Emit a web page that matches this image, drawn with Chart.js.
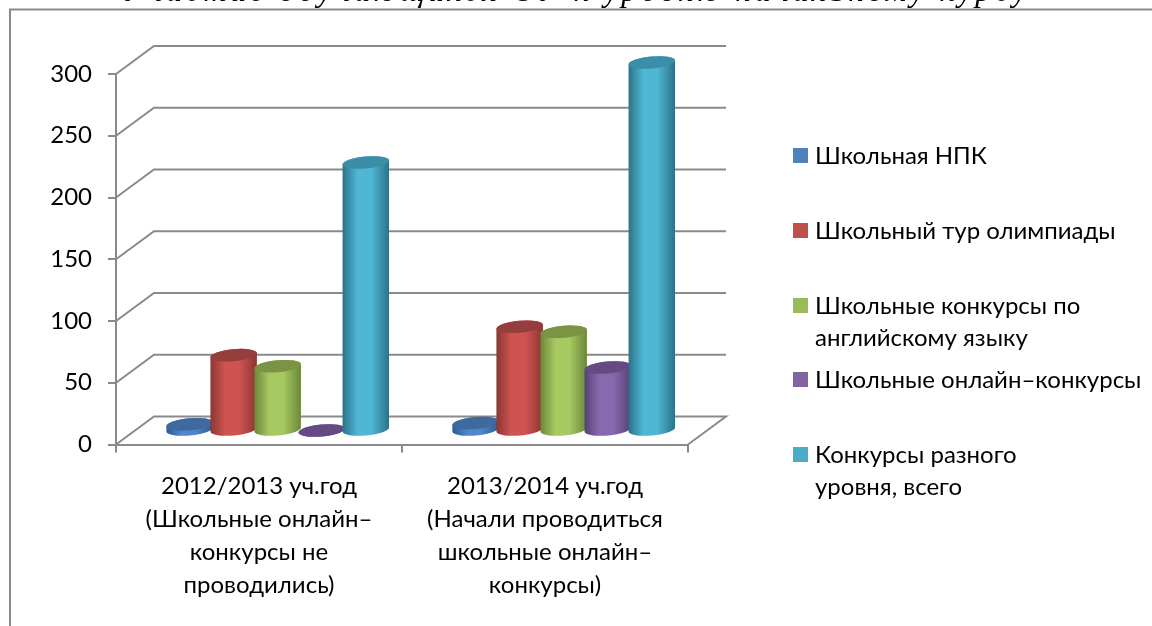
<!DOCTYPE html>
<html lang="ru">
<head>
<meta charset="utf-8">
<title>Конкурсы</title>
<script src="https://cdn.jsdelivr.net/npm/chart.js"></script>
<style>
html, body { margin: 0; padding: 0; background: #fff; overflow: hidden; }
canvas { display: block; filter: blur(0.4px); }
</style>
</head>
<body>
<canvas id="chart" width="1152" height="626"></canvas>
<script>
var categories = [
  ["2012/2013 уч.год", "(Школьные онлайн–", "конкурсы не", "проводились)"],
  ["2013/2014 уч.год", "(Начали проводиться", "школьные онлайн–", "конкурсы)"]
];
var seriesNames = [
  "Школьная НПК",
  "Школьный тур олимпиады",
  "Школьные конкурсы по английскому языку",
  "Школьные онлайн–конкурсы",
  "Конкурсы разного уровня, всего"
];
var npkValues = [5, 6];
var olympiadValues = [61, 84];
var englishValues = [52, 80];
var onlineValues = [0, 51];
var allValues = [217, 298];
var yTicks = [0, 50, 100, 150, 200, 250, 300];

var legendLines = [
  ["Школьная НПК"],
  ["Школьный тур олимпиады"],
  ["Школьные конкурсы по", "английскому языку"],
  ["Школьные онлайн–конкурсы"],
  ["Конкурсы разного", "уровня, всего"]
];

var FONT = "Lato, 'Open Sans', sans-serif";
var AXIS_GREY = "#8a8a8a";
var DEPTH_X = 38, DEPTH_Y = 28;   // back wall offset
var swatches = ["#4f81bd", "#c0504d", "#9bbb59", "#8064a2", "#4bacc6"];
var tops = ["#3e6a9f", "#953e3b", "#7a9444", "#644b84", "#3b8ea8"];
var edges = ["#2f5a92", "#8a3633", "#6c873a", "#574176", "#2b7287"];
var lights = ["#4f87c8", "#cf5451", "#a6c962", "#8868ae", "#4fb7d3"];

function cylinder(ctx, cx, topY, baseY, rx, i) {
  var ry = 6, rot = -0.09;
  var g = ctx.createLinearGradient(cx - rx, 0, cx + rx, 0);
  g.addColorStop(0, edges[i]);
  g.addColorStop(0.32, lights[i]);
  g.addColorStop(0.62, lights[i]);
  g.addColorStop(1, edges[i]);
  ctx.beginPath();
  ctx.ellipse(cx, baseY, rx, ry, rot, 0, Math.PI);
  ctx.ellipse(cx, topY, rx, ry, rot, Math.PI, Math.PI * 2);
  ctx.closePath();
  ctx.fillStyle = g;
  ctx.fill();
  ctx.beginPath();
  ctx.ellipse(cx, topY, rx, ry, rot, 0, Math.PI * 2);
  ctx.fillStyle = tops[i];
  ctx.fill();
}

var wallPlugin = {
  id: "wall",
  beforeDraw: function (chart) {
    var ctx = chart.ctx;
    ctx.save();
    ctx.fillStyle = "#fff";
    ctx.fillRect(0, 0, 1152, 626);
    ctx.strokeStyle = AXIS_GREY;
    ctx.lineWidth = 2;
    ctx.strokeRect(10, 9.5, 1300, 800);
    // page heading cut off by the crop
    ctx.fillStyle = "#000";
    ctx.font = "italic 32px 'Liberation Serif', serif";
    ctx.textAlign = "left";
    ctx.textBaseline = "alphabetic";
    ctx.letterSpacing = "3.6px";
    ctx.fillText("Участие обучающихся ОУ к уровню начальному курсу", 122, 1);
    ctx.restore();
  },
  beforeDatasetsDraw: function (chart) {
    var ctx = chart.ctx, area = chart.chartArea, y = chart.scales.y;
    ctx.save();
    ctx.strokeStyle = AXIS_GREY;
    ctx.lineWidth = 2;
    yTicks.forEach(function (t) {
      var py = y.getPixelForValue(t);
      ctx.beginPath();
      ctx.moveTo(area.left, py);
      ctx.lineTo(area.left + DEPTH_X, py - DEPTH_Y);
      ctx.lineTo(area.right + DEPTH_X, py - DEPTH_Y);
      if (t === 0) ctx.lineTo(area.right, py);
      ctx.stroke();
    });
    ctx.restore();
  },
  afterDatasetsDraw: function (chart) {
    var ctx = chart.ctx;
    ctx.save();
    // bars only report their place, the cylinders stand half way into the floor
    [0, 1].forEach(function (c) {
      chart.data.datasets.forEach(function (ds, i) {
        var bar = chart.getDatasetMeta(i).data[c];
        cylinder(ctx, bar.x + DEPTH_X / 2 - 0.3, bar.y - DEPTH_Y / 2, bar.base - DEPTH_Y / 2, bar.width / 2 + 1.3, i);
      });
    });
    ctx.restore();
  },
  afterDraw: function (chart) {
    var ctx = chart.ctx;
    var rows = [[156], [231], [306, 338], [380], [455, 487]];
    ctx.save();
    ctx.font = "24px " + FONT;
    ctx.textBaseline = "middle";
    legendLines.forEach(function (lines, i) {
      ctx.fillStyle = swatches[i];
      ctx.fillRect(793, rows[i][0] - 8, 15, 15);
      ctx.fillStyle = "#000";
      lines.forEach(function (txt, k) {
        ctx.fillText(txt, 815, rows[i][k]);
      });
    });
    ctx.restore();
  }
};

var datasets = [npkValues, olympiadValues, englishValues, onlineValues, allValues].map(function (vals, i) {
  return { label: seriesNames[i], data: vals, backgroundColor: "rgba(0,0,0,0)", borderWidth: 0 };
});

new Chart(document.getElementById("chart"), {
  type: "bar",
  data: { labels: categories, datasets: datasets },
  options: {
    responsive: false,
    animation: false,
    events: [],
    layout: { padding: { top: 74, right: 464, left: 0, bottom: 0 } },
    datasets: { bar: { categoryPercentage: 0.77, barPercentage: 1 } },
    plugins: { legend: { display: false }, tooltip: { enabled: false }, title: { display: false } },
    scales: {
      x: {
        afterFit: function (scale) { scale.height = 181.5; },
        border: { color: AXIS_GREY, width: 2 },
        grid: { drawOnChartArea: false, color: AXIS_GREY, lineWidth: 2, tickLength: 8 },
        ticks: { color: "#000", maxRotation: 0, autoSkip: false, padding: 17, font: { family: FONT, size: 24, lineHeight: "33px" } }
      },
      y: {
        min: 0,
        max: 300,
        afterFit: function (scale) { scale.width = 116; },
        border: { color: AXIS_GREY, width: 2 },
        grid: { drawOnChartArea: false, color: AXIS_GREY, lineWidth: 2, tickLength: 8 },
        ticks: { stepSize: 50, color: "#000", padding: 16, font: { family: FONT, size: 24 } }
      }
    }
  },
  plugins: [wallPlugin]
});
</script>
</body>
</html>
